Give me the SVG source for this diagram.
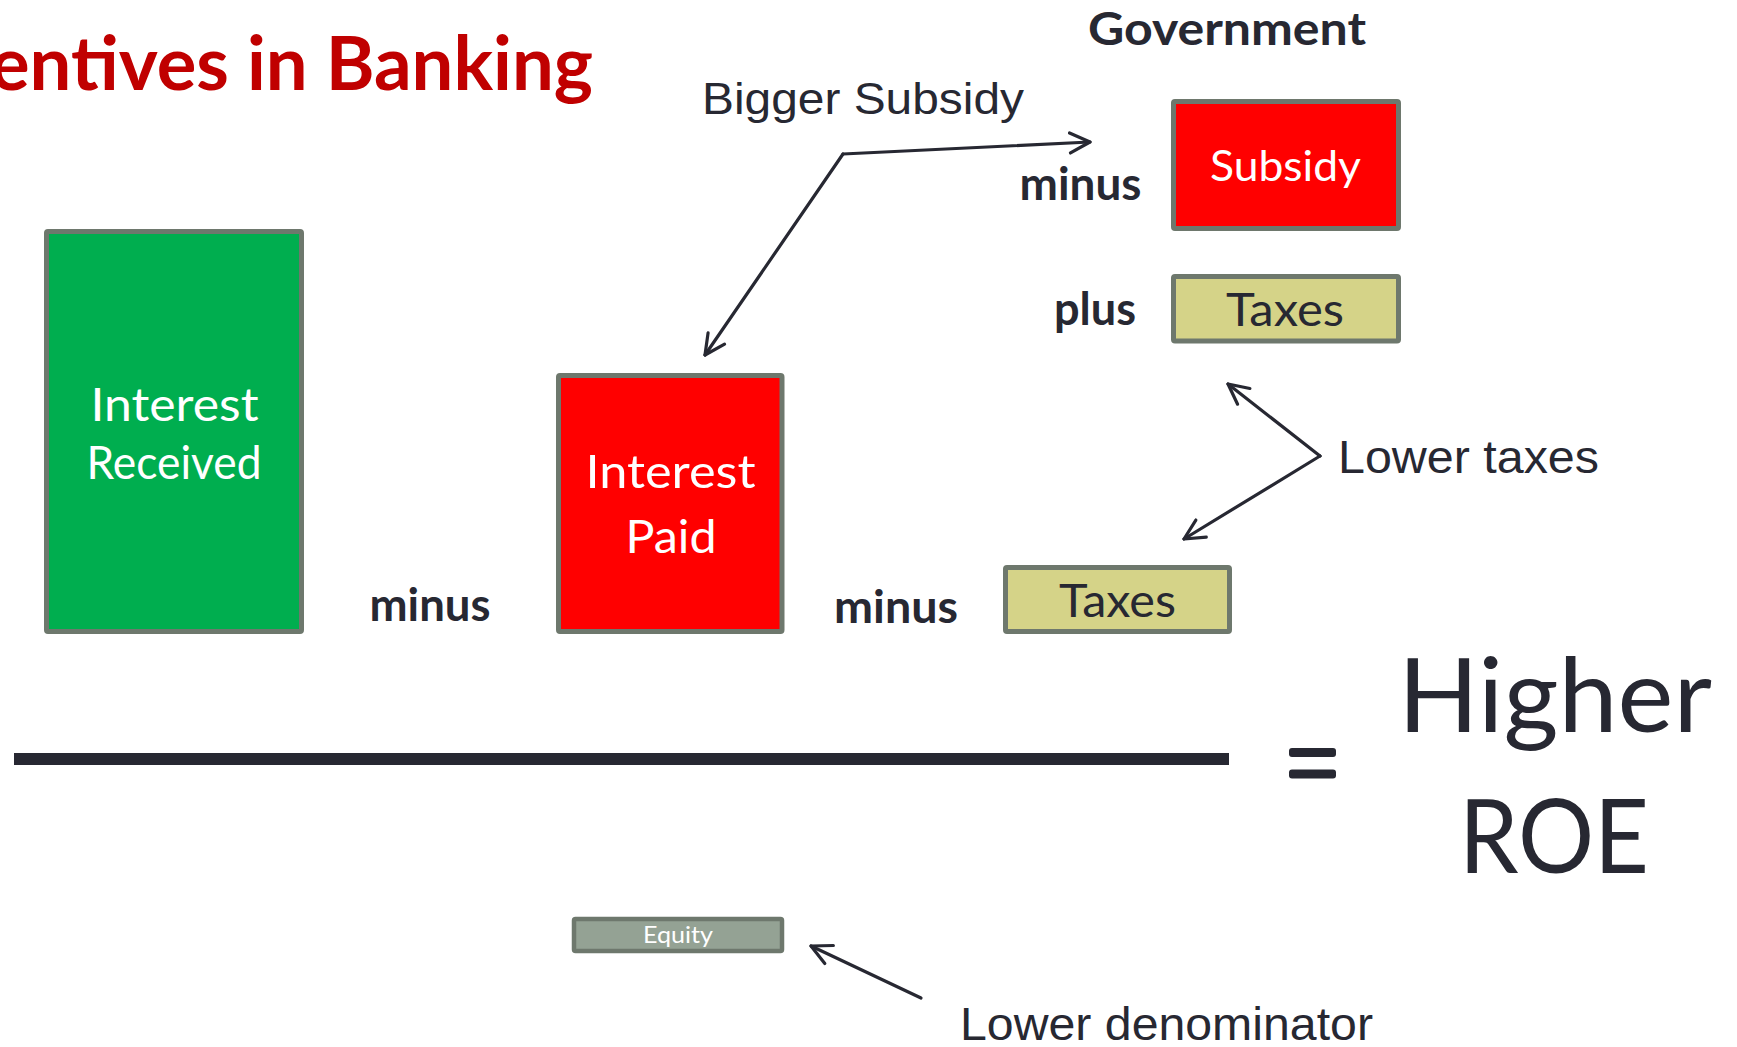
<svg xmlns="http://www.w3.org/2000/svg" width="1737" height="1047" viewBox="0 0 1737 1047">
  <defs>
    <style>
      .box { stroke: #6E786D; stroke-width: 5; stroke-linejoin: round; }
      .green { fill: #00AE4F; }
      .red { fill: #FF0000; }
      .khaki { fill: #D5D388; }
      .equity { fill: #94A294; stroke-width: 4.5; }
      .lbl { font-family: "Lato", "Open Sans", sans-serif; font-weight: 400; text-anchor: middle; }
      .white { fill: #FFFFFF; }
      .dark { fill: #272832; }
      .op { font-family: "Lato", "Open Sans", sans-serif; font-weight: 700; font-size: 46px; fill: #272832; text-anchor: middle; }
      .note { font-family: "Liberation Sans", Arial, sans-serif; fill: #272832; }
      .conn { fill: none; stroke: #272832; stroke-width: 3.2; stroke-linecap: round; stroke-linejoin: round; }
    </style>
    <marker id="head" viewBox="0 0 24 24" markerWidth="24" markerHeight="24" markerUnits="userSpaceOnUse" refX="22" refY="12" orient="auto">
      <path d="M2,2 L22,12 L2,22" fill="none" stroke="#272832" stroke-width="3.2" stroke-linecap="round" stroke-linejoin="round"/>
    </marker>
  </defs>

  <rect width="1737" height="1047" fill="#FFFFFF"/>

  <!-- slide title, running off the left edge -->
  <text id="title" x="-10" y="90" font-family="Lato, 'Open Sans', sans-serif" font-weight="700" font-size="74" fill="#C00000" textLength="603" lengthAdjust="spacingAndGlyphs">entives in Banking</text>

  <!-- numerator blocks -->
  <g id="interest-received">
    <rect class="box green" x="46.5" y="231.5" width="255" height="400" rx="1.5"/>
    <text class="lbl white" x="174.5" y="421" font-size="46" textLength="168" lengthAdjust="spacingAndGlyphs">Interest</text>
    <text class="lbl white" x="174" y="479" font-size="46" textLength="175" lengthAdjust="spacingAndGlyphs">Received</text>
  </g>

  <text id="op-minus-1" class="op" x="430" y="621" textLength="121" lengthAdjust="spacingAndGlyphs">minus</text>

  <g id="interest-paid">
    <rect class="box red" x="558.5" y="375.5" width="223.5" height="256" rx="1.5"/>
    <text class="lbl white" x="670.5" y="488" font-size="46" textLength="170" lengthAdjust="spacingAndGlyphs">Interest</text>
    <text class="lbl white" x="671" y="553" font-size="46" textLength="91" lengthAdjust="spacingAndGlyphs">Paid</text>
  </g>

  <text id="op-minus-2" class="op" x="896" y="623" textLength="124" lengthAdjust="spacingAndGlyphs">minus</text>

  <g id="taxes-bank">
    <rect class="box khaki" x="1005.5" y="567.5" width="224" height="64" rx="1.5"/>
    <text class="lbl dark" x="1117.5" y="617" font-size="47" textLength="117" lengthAdjust="spacingAndGlyphs">Taxes</text>
  </g>

  <!-- government side -->
  <text id="government" class="op" x="1227" y="45" font-size="45" textLength="278" lengthAdjust="spacingAndGlyphs">Government</text>

  <text id="op-minus-3" class="op" x="1080.5" y="200" textLength="122" lengthAdjust="spacingAndGlyphs">minus</text>

  <g id="subsidy">
    <rect class="box red" x="1173.5" y="101.5" width="225" height="127" rx="1.5"/>
    <text class="lbl white" x="1285.5" y="181" font-size="43" textLength="151" lengthAdjust="spacingAndGlyphs">Subsidy</text>
  </g>

  <text id="op-plus" class="op" x="1095" y="325" textLength="82" lengthAdjust="spacingAndGlyphs">plus</text>

  <g id="taxes-gov">
    <rect class="box khaki" x="1173.5" y="276.5" width="225" height="64.5" rx="1.5"/>
    <text class="lbl dark" x="1285" y="326" font-size="46" textLength="118" lengthAdjust="spacingAndGlyphs">Taxes</text>
  </g>

  <!-- fraction bar and result -->
  <rect id="fraction-bar" x="14" y="753" width="1215" height="12" fill="#272832"/>

  <g id="equals" fill="#272832">
    <rect x="1289" y="748" width="47" height="9" rx="3"/>
    <rect x="1289" y="769.5" width="47" height="9" rx="3"/>
  </g>

  <g id="result">
    <text class="lbl dark" x="1555" y="732" font-size="103" textLength="314" lengthAdjust="spacingAndGlyphs">Higher</text>
    <text class="lbl dark" x="1554" y="873" font-size="102" textLength="190" lengthAdjust="spacingAndGlyphs">ROE</text>
  </g>

  <!-- denominator -->
  <g id="equity">
    <rect class="box equity" x="574" y="919" width="208" height="32" rx="1.5"/>
    <text class="lbl white" x="678" y="943" font-size="23" textLength="70" lengthAdjust="spacingAndGlyphs">Equity</text>
  </g>

  <!-- annotations -->
  <text id="note-subsidy" class="note" x="702" y="114" font-size="44" textLength="322" lengthAdjust="spacingAndGlyphs">Bigger Subsidy</text>
  <text id="note-taxes" class="note" x="1338" y="473" font-size="47" textLength="261" lengthAdjust="spacingAndGlyphs">Lower taxes</text>
  <text id="note-denominator" class="note" x="960" y="1040" font-size="46" textLength="413" lengthAdjust="spacingAndGlyphs">Lower denominator</text>

  <!-- connectors -->
  <g id="connectors">
    <path class="conn" d="M843,154 L1090,142" marker-end="url(#head)"/>
    <path class="conn" d="M843,154 L705,355" marker-end="url(#head)"/>
    <path class="conn" d="M1320,456 L1228,384" marker-end="url(#head)"/>
    <path class="conn" d="M1320,456 L1184,539" marker-end="url(#head)"/>
    <path class="conn" d="M921,998 L811,946" marker-end="url(#head)"/>
  </g>
</svg>
